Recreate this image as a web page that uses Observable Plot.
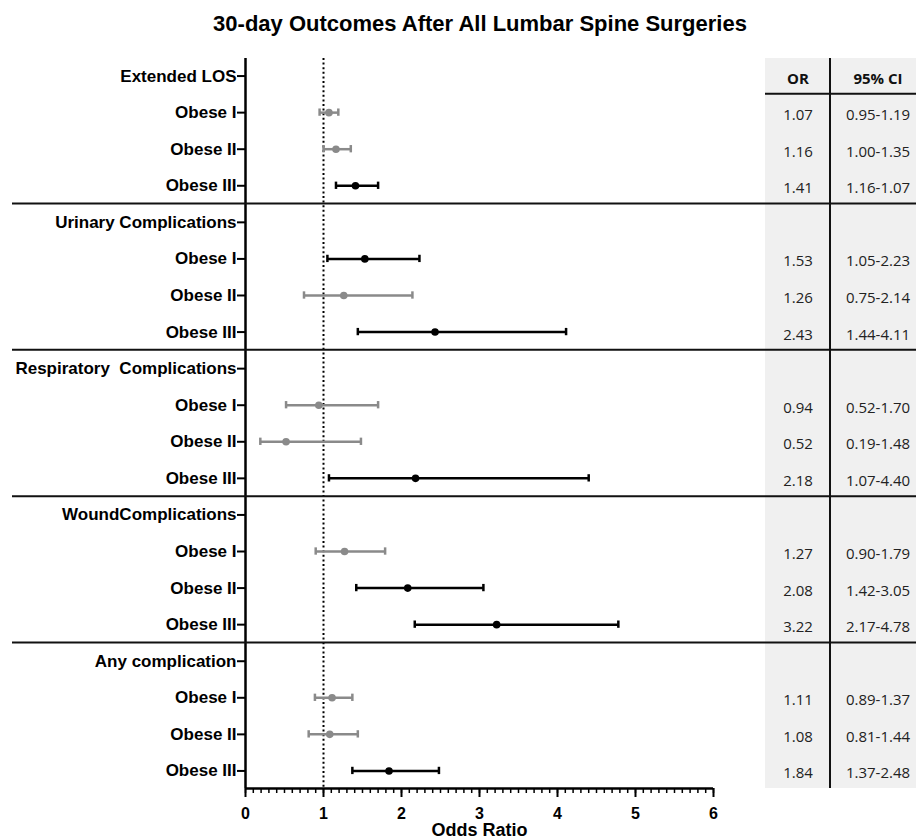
<!DOCTYPE html>
<html>
<head>
<meta charset="utf-8">
<script src="https://cdn.jsdelivr.net/npm/d3@7"></script>
<script src="https://cdn.jsdelivr.net/npm/@observablehq/plot@0.6"></script>
<style>
  body { margin: 0; background: #fff; }
  #title { width: 916px; height: 46px; box-sizing: border-box; padding-left: 44px; padding-top: 2px;
           text-align: center; font: bold 22px "Liberation Sans", Arial, sans-serif; line-height: 44px; color: #000; }
  svg text { white-space: pre; }
</style>
</head>
<body>
<div id="title">30-day Outcomes After All Lumbar Spine Surgeries</div>
<div id="chart"></div>
<script>
// ---- data ----
const outcomes = ["Extended LOS", "Urinary Complications", "Respiratory  Complications", "WoundComplications", "Any complication"];
const classes = ["Obese I", "Obese II", "Obese III"];
const oddsRatio = [1.07, 1.16, 1.41,  1.53, 1.26, 2.43,  0.94, 0.52, 2.18,  1.27, 2.08, 3.22,  1.11, 1.08, 1.84];
const ciLow     = [0.95, 1.00, 1.16,  1.05, 0.75, 1.44,  0.52, 0.19, 1.07,  0.90, 1.42, 2.17,  0.89, 0.81, 1.37];
const ciHigh    = [1.19, 1.35, 1.70,  2.23, 2.14, 4.11,  1.70, 1.48, 4.40,  1.79, 3.05, 4.78,  1.37, 1.44, 2.48];
const orText    = ["1.07", "1.16", "1.41", "1.53", "1.26", "2.43", "0.94", "0.52", "2.18", "1.27", "2.08", "3.22", "1.11", "1.08", "1.84"];
const ciText    = ["0.95-1.19", "1.00-1.35", "1.16-1.07", "1.05-2.23", "0.75-2.14", "1.44-4.11", "0.52-1.70", "0.19-1.48", "1.07-4.40",
                   "0.90-1.79", "1.42-3.05", "2.17-4.78", "0.89-1.37", "0.81-1.44", "1.37-2.48"];
const tableHeader = ["OR", "95% CI"];
const majorTicks = [0, 1, 2, 3, 4, 5, 6];
const refValue = 1;

// ---- build rows ----
const rowLabels = [];
const estimates = [];
const groupStarts = [];
outcomes.forEach((o, g) => {
  groupStarts.push(rowLabels.length);
  rowLabels.push(o);
  classes.forEach((c, k) => {
    const i = g * classes.length + k;
    estimates.push({row: rowLabels.length, or: oddsRatio[i], lo: ciLow[i], hi: ciHigh[i], orT: orText[i], ciT: ciText[i]});
    rowLabels.push(c);
  });
});
const nRows = rowLabels.length;
const pad = 0.48;
const yMax = nRows - 1 + pad;
const capH = 0.1;
const colorOf = d => d.lo > refValue ? "#000000" : "#8a8a8a";
const minorTicks = d3.range(0, 60.5, 1).map(v => v / 10);

const plot = Plot.plot({
  width: 916,
  height: 794,
  marginLeft: 245,
  marginRight: 203,
  marginTop: 12,
  marginBottom: 52,
  style: {fontFamily: '"Liberation Sans", Arial, sans-serif', background: "white", color: "black", overflow: "visible"},
  x: {domain: [0, 6]},
  y: {domain: [-pad, yMax], reverse: true},
  marks: [
    Plot.ruleX([refValue], {stroke: "black", strokeWidth: 2, strokeDasharray: "2,2.6"}),
    Plot.ruleY(estimates, {y: "row", x1: "lo", x2: "hi", stroke: colorOf, strokeWidth: 2.5}),
    Plot.ruleX(estimates, {x: "lo", y1: d => d.row - capH, y2: d => d.row + capH, stroke: colorOf, strokeWidth: 2.5}),
    Plot.ruleX(estimates, {x: "hi", y1: d => d.row - capH, y2: d => d.row + capH, stroke: colorOf, strokeWidth: 2.5}),
    Plot.dot(estimates, {x: "or", y: "row", r: 3.8, fill: colorOf, stroke: null}),
    Plot.ruleX([0], {stroke: "black", strokeWidth: 2.5}),
    Plot.ruleY([yMax], {stroke: "black", strokeWidth: 2.5}),
    Plot.axisY({ticks: d3.range(nRows), tickFormat: i => rowLabels[i], tickSize: 8, tickPadding: 1,
                fontSize: 17, fontWeight: "bold", strokeWidth: 2, label: null}),
    Plot.axisX({ticks: minorTicks, tickSize: 5, tickFormat: () => "", strokeWidth: 1.5, label: null}),
    Plot.axisX({ticks: majorTicks, tickSize: 9, tickPadding: 10, tickFormat: d3.format("d"),
                fontSize: 16, fontWeight: "bold", strokeWidth: 2, label: null}),
    Plot.text(["Odds Ratio"], {frameAnchor: "bottom", dy: 42, lineAnchor: "middle", fontSize: 18, fontWeight: "bold", fill: "black"})
  ]
});
document.getElementById("chart").appendChild(plot);

// ---- table and group separators, positioned with the plot's y scale ----
const ys = plot.scale("y");
const Y = v => ys.apply(v);
const svg = d3.select(plot);
const tableX0 = 765, tableX1 = 916, colDiv = 830;
const colCenters = [798, 878];
const frameTop = Y(-pad), frameBottom = Y(yMax);
const tbl = svg.append("g");
tbl.append("rect").attr("x", tableX0).attr("y", frameTop).attr("width", tableX1 - tableX0).attr("height", frameBottom - frameTop).attr("fill", "#f0f0f0");
tbl.append("line").attr("x1", colDiv).attr("x2", colDiv).attr("y1", frameTop).attr("y2", frameBottom).attr("stroke", "#111").attr("stroke-width", 2);
tbl.append("line").attr("x1", tableX0).attr("x2", tableX1).attr("y1", Y(0.5)).attr("y2", Y(0.5)).attr("stroke", "#111").attr("stroke-width", 2);
tableHeader.forEach((h, j) => {
  tbl.append("text").attr("x", colCenters[j]).attr("y", Y(0) + 2).attr("text-anchor", "middle").attr("dominant-baseline", "central")
    .attr("font-family", '"Open Sans", sans-serif').attr("font-size", 15).attr("font-weight", "bold").attr("fill", "#111").text(h);
});
estimates.forEach(d => {
  [d.orT, d.ciT].forEach((t, j) => {
    tbl.append("text").attr("x", colCenters[j]).attr("y", Y(d.row) + 2).attr("text-anchor", "middle").attr("dominant-baseline", "central")
      .attr("font-family", '"Open Sans", sans-serif').attr("font-size", 15).attr("fill", "#222").text(t);
  });
});
groupStarts.slice(1).forEach(s => {
  tbl.append("line").attr("x1", 12).attr("x2", 916).attr("y1", Y(s - 0.5)).attr("y2", Y(s - 0.5)).attr("stroke", "#111").attr("stroke-width", 2);
});
</script>
</body>
</html>
